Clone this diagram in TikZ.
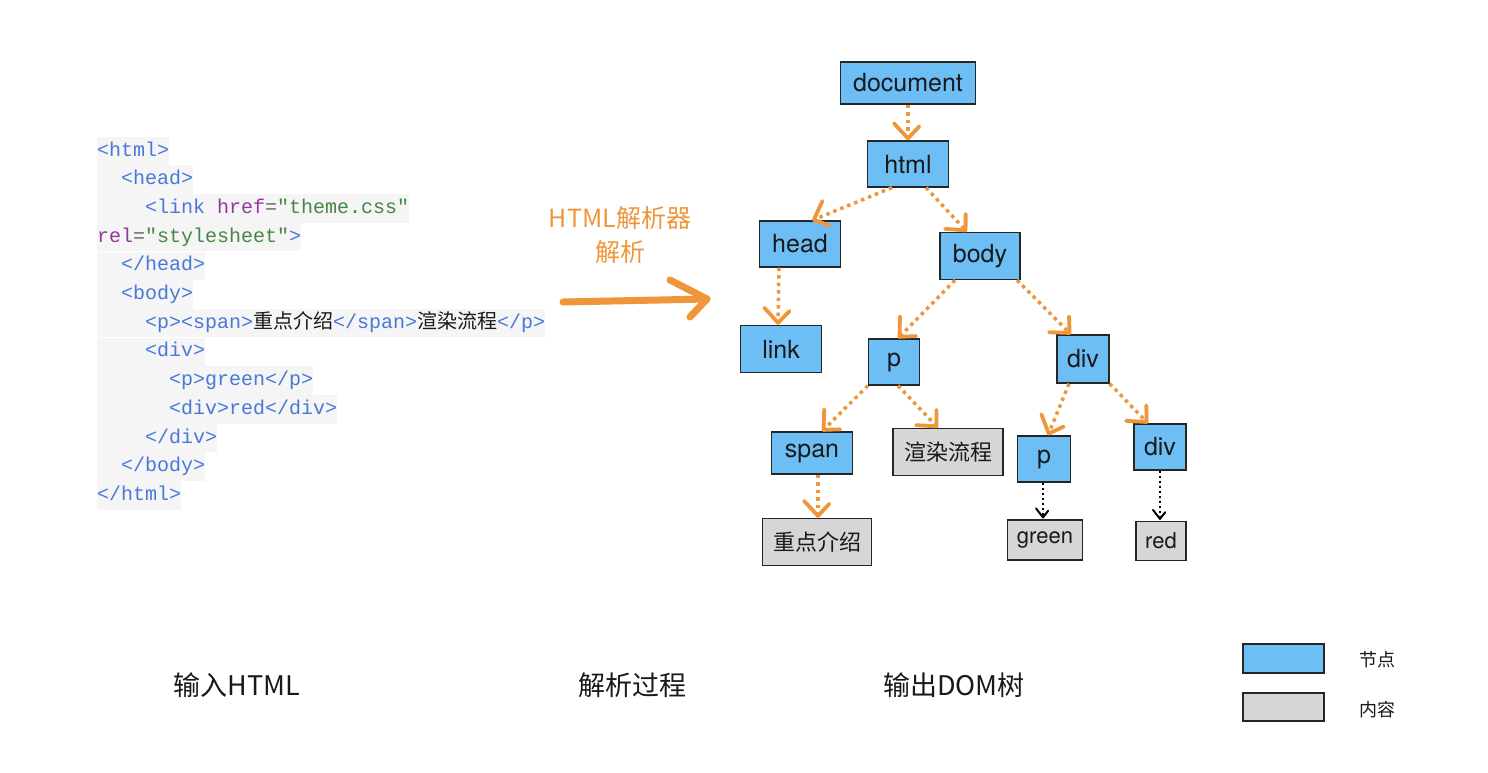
\documentclass[tikz,border=0pt]{standalone}
\usepackage{fontspec}
\setmainfont{TeX Gyre Heros}
\newfontfamily\cjk{Noto Sans CJK SC}
\newfontfamily\codefont{Liberation Mono}
\usetikzlibrary{decorations.markings}
\definecolor{nodeblue}{RGB}{110,190,246}
\definecolor{contgray}{RGB}{214,214,214}
\definecolor{edgeor}{RGB}{240,150,58}
\definecolor{tagblue}{RGB}{72,120,216}
\definecolor{attrpurple}{RGB}{150,55,160}
\definecolor{strgreen}{RGB}{70,135,70}
\definecolor{codebg}{RGB}{245,245,245}
\definecolor{textdark}{RGB}{25,25,25}
\newcommand{\ctag}[1]{\textcolor{tagblue}{#1}}
\newcommand{\cattr}[1]{\textcolor{attrpurple}{#1}}
\newcommand{\cstrg}[1]{\textcolor{strgreen}{#1}}
\newcommand{\ceq}{\textcolor{black!60}{=}}
\newcommand{\czh}[1]{{\cjk\textcolor{textdark}{#1}}}
\begin{document}
\begin{tikzpicture}[x=1pt,y=-1pt,
  bnode/.style={draw=black!85, line width=1.2pt, fill=nodeblue, inner sep=0pt, text=textdark, font=\fontsize{25}{28}\selectfont},
  gnode/.style={draw=black!85, line width=1.2pt, fill=contgray, inner sep=0pt, text=textdark, font=\fontsize{22}{26}\selectfont},
  oedge/.style={draw=edgeor, line width=3.5pt, dash pattern=on 3.5pt off 4pt, shorten >=4pt,
    postaction={decorate, decoration={markings, mark=at position -2pt with {\draw[solid, draw=edgeor, line width=3.8pt, line cap=round, line join=round] (-15pt,-14pt) -- (0pt,0pt) -- (-15pt,14pt);}}}},
  kedge/.style={draw=black, line width=2pt, dash pattern=on 2pt off 3pt, shorten >=3pt,
    postaction={decorate, decoration={markings, mark=at position -2pt with {\draw[solid, draw=black, line width=2pt, line cap=round, line join=round] (-9pt,-7pt) -- (0pt,0pt) -- (-9pt,7pt);}}}},
  codeline/.style={anchor=west, fill=codebg, inner xsep=0pt, inner ysep=0pt, minimum height=28.5pt, text height=15pt, text depth=5pt, font=\codefont\fontsize{20}{24}\selectfont},
  bigarrow/.style={draw=edgeor, line width=7pt, line cap=round, line join=round},
  lbl/.style={font=\cjk\fontsize{27}{30}\selectfont, text=textdark},
  orlbl/.style={font=\cjk\fontsize{25}{28}\selectfont, text=edgeor},
  legtxt/.style={font=\cjk\fontsize{18}{20}\selectfont, text=textdark}
]
\useasboundingbox (0,0) rectangle (1488,772);
\fill[white] (0,0) rectangle (1488,772);

% code
\node[codeline] (c1) at (97,151) {\ctag{<html>}};
\node[codeline] (c2) at (97,179.7) {\ \ \ctag{<head>}};
\node[codeline] (c3) at (97,208.4) {\ \ \ \ \ctag{<link} \cattr{href}\ceq\cstrg{"theme.css"}};
\node[codeline] (c4) at (97,237.1) {\cattr{rel}\ceq\cstrg{"stylesheet"}\ctag{>}};
\node[codeline] (c5) at (97,265.8) {\ \ \ctag{</head>}};
\node[codeline] (c6) at (97,294.5) {\ \ \ctag{<body>}};
\node[codeline] (c7) at (97,323.2) {\ \ \ \ \ctag{<p><span>}\czh{重点介绍}\ctag{</span>}\czh{渲染流程}\ctag{</p>}};
\node[codeline] (c8) at (97,351.9) {\ \ \ \ \ctag{<div>}\ };
\node[codeline] (c9) at (97,380.6) {\ \ \ \ \ \ \ctag{<p>green</p>}\ };
\node[codeline] (c10) at (97,409.3) {\ \ \ \ \ \ \ctag{<div>red</div>}\ };
\node[codeline] (c11) at (97,438) {\ \ \ \ \ctag{</div>}};
\node[codeline] (c12) at (97,466.7) {\ \ \ctag{</body>}};
\node[codeline] (c13) at (97,495.4) {\ctag{</html>}};

% parser label and arrow
\node[orlbl] (plab1) at (620,218) {HTML解析器};
\node[orlbl] (plab2) at (620,252) {解析};
\coordinate (aS) at (563,302);
\coordinate (aE) at (707,299);
\coordinate (aT) at (670,280);
\coordinate (aB) at (690,317);
\draw[bigarrow] (aS) -- (aE);
\draw[bigarrow] (aT) -- (aE) -- (aB);

% tree
\node[bnode, minimum width=135, minimum height=42] (document) at (908,83) {document};
\node[bnode, minimum width=81, minimum height=46] (html) at (908,164) {html};
\node[bnode, minimum width=81, minimum height=46] (head) at (800,244) {head};
\node[bnode, minimum width=80, minimum height=47] (body) at (980,256) {body};
\node[bnode, minimum width=81, minimum height=47] (link) at (781,349) {link};
\node[bnode, minimum width=51, minimum height=46] (p) at (894,362) {p};
\node[bnode, minimum width=52, minimum height=48] (div) at (1083,359) {div};
\node[bnode, minimum width=81, minimum height=42] (span) at (812,453) {span};
\node[gnode, minimum width=110, minimum height=47, font=\cjk\fontsize{22}{26}\selectfont] (xr) at (948,452) {渲染流程};
\node[bnode, minimum width=53, minimum height=46] (p2) at (1044,459) {p};
\node[bnode, minimum width=52, minimum height=46] (div2) at (1160,447) {div};
\node[gnode, minimum width=109, minimum height=47, font=\cjk\fontsize{22}{26}\selectfont] (zd) at (817,542) {重点介绍};
\node[gnode, minimum width=75, minimum height=40] (green) at (1045,540) {green};
\node[gnode, minimum width=50, minimum height=39] (red) at (1161,541) {red};

\draw[oedge] (document.south) -- (html.north);
\draw[oedge] ([xshift=-16pt]html.south) -- ([xshift=12pt]head.north);
\draw[oedge] ([xshift=18pt]html.south) -- ([xshift=-13pt]body.north);
\draw[oedge] ([xshift=-21pt]head.south) -- ([xshift=-3pt]link.north);
\draw[oedge] ([xshift=-25pt]body.south) -- ([xshift=4pt]p.north);
\draw[oedge] ([xshift=37pt]body.south) -- ([xshift=-12pt]div.north);
\draw[oedge] (p.south west) -- ([xshift=10pt]span.north);
\draw[oedge] ([xshift=4pt]p.south) -- ([xshift=-10pt]xr.north);
\draw[oedge] ([xshift=-14pt]div.south) -- ([xshift=4pt]p2.north);
\draw[oedge] (div.south east) -- ([xshift=-12pt]div2.north);
\draw[oedge] ([xshift=6pt]span.south) -- ([xshift=1pt]zd.north);
\draw[kedge] ([xshift=-1pt]p2.south) -- ([xshift=-2pt]green.north);
\draw[kedge] (div2.south) -- ([xshift=-1pt]red.north);

% bottom labels
\node[lbl] (inlab) at (237,685) {输入HTML};
\node[lbl] (proclab) at (632,685) {解析过程};
\node[lbl] (outlab) at (954,685) {输出DOM树};

% legend
\node[draw=black!85, line width=1.2pt, fill=nodeblue, minimum width=81, minimum height=29, inner sep=0pt] (legb) at (1283.5,658.5) {};
\node[draw=black!85, line width=1.2pt, fill=contgray, minimum width=81, minimum height=28, inner sep=0pt] (legg) at (1283.5,707) {};
\node[legtxt] (legbt) at (1377,660) {节点};
\node[legtxt] (leggt) at (1377,710) {内容};
\end{tikzpicture}
\end{document}
